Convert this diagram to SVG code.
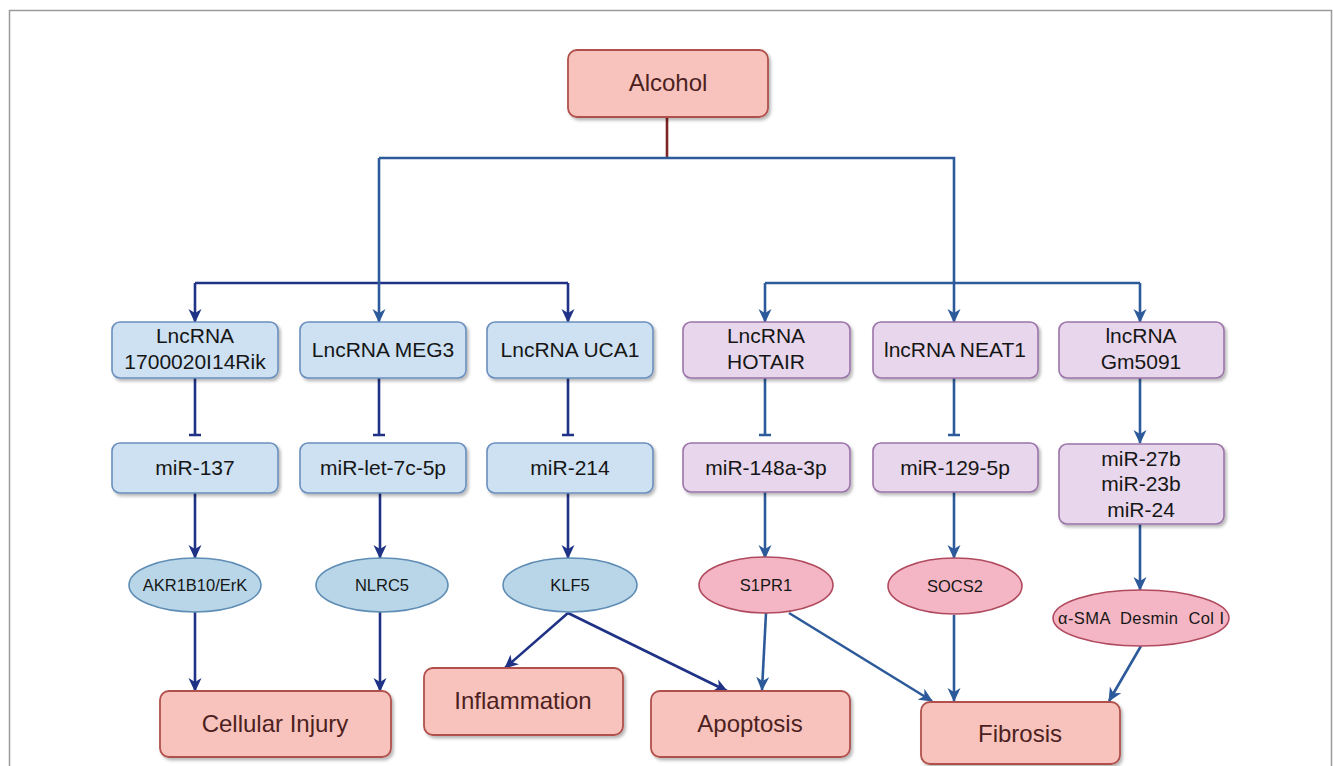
<svg xmlns="http://www.w3.org/2000/svg" width="1333" height="766" viewBox="0 0 1333 766">
<defs>
<filter id="sh" x="-10%" y="-10%" width="130%" height="140%">
<feDropShadow dx="2" dy="2.5" stdDeviation="1.5" flood-color="#000" flood-opacity="0.28"/>
</filter>
<marker id="an" viewBox="0 0 14 14" refX="13" refY="7" markerWidth="14" markerHeight="14" markerUnits="userSpaceOnUse" orient="auto">
<path d="M0,0.5 L14,7 L0,13.5 L4,7 z" fill="#1f3285"/>
</marker>
<marker id="ab" viewBox="0 0 14 14" refX="13" refY="7" markerWidth="14" markerHeight="14" markerUnits="userSpaceOnUse" orient="auto">
<path d="M0,0.5 L14,7 L0,13.5 L4,7 z" fill="#2d5a9a"/>
</marker>
</defs>
<style>
text{font-family:"Liberation Sans",Arial,sans-serif;text-anchor:middle}
.bb{fill:#cde1f2;stroke:#6a8fbd;stroke-width:1.6;filter:url(#sh)}
.pb{fill:#e8d6ec;stroke:#9b74a8;stroke-width:1.6;filter:url(#sh)}
.be{fill:#b8d6e8;stroke:#5f8db5;stroke-width:1.6}
.pe{fill:#f4b6c4;stroke:#b04a5e;stroke-width:1.6}
.sb{fill:#f8c3bc;stroke:#b0504c;stroke-width:1.8;filter:url(#sh)}
.t{font-size:21px;fill:#161616}
.e{font-size:16.5px;fill:#161616}
.s{font-size:24px;fill:#4d1f1f}
.n{fill:none;stroke:#1f3285;stroke-width:2.6}
.b{fill:none;stroke:#2d5a9a;stroke-width:2.6}
.na{marker-end:url(#an)}
.ba{marker-end:url(#ab)}
</style>
<rect x="9.5" y="10.5" width="1322" height="800" fill="#ffffff" stroke="#9a9a9a" stroke-width="1.5"/>

<g id="connectors">
<path d="M667 117 V158" fill="none" stroke="#7e2424" stroke-width="2.6"/>
<path class="n" d="M195 283 H568"/>
<path class="b" d="M379 158 H954 V283"/>
<path class="b ba" d="M379 158 V322"/>
<path class="n na" d="M195 283 V322"/>
<path class="n na" d="M568 283 V322"/>
<path class="b" d="M765 283 H1140"/>
<path class="b ba" d="M765 283 V322"/>
<path class="b ba" d="M954 283 V322"/>
<path class="b ba" d="M1140 283 V322"/>

<path class="n" d="M195 378 V435 M189 435 H201"/>
<path class="n" d="M379 378 V435 M373 435 H385"/>
<path class="n" d="M568 378 V435 M562 435 H574"/>
<path class="b" d="M765 378 V435 M759 435 H771"/>
<path class="b" d="M954 378 V435 M948 435 H960"/>
<path class="b ba" d="M1140 378 V443"/>

<path class="n na" d="M195 493 V558"/>
<path class="n na" d="M380 493 V558"/>
<path class="n na" d="M568 493 V558"/>
<path class="b ba" d="M765 492 V558"/>
<path class="b ba" d="M954 492 V558"/>
<path class="b ba" d="M1140 524 V590"/>

<path class="n na" d="M195 612 V691"/>
<path class="n na" d="M380 612 V691"/>
<path class="n na" d="M568 613 L505 668"/>
<path class="n na" d="M568 613 L727 691"/>
<path class="b ba" d="M766 613 L762 690"/>
<path class="b ba" d="M789 613 L932 701"/>
<path class="b ba" d="M954 615 V701"/>
<path class="b ba" d="M1141 646 L1109 701"/>
</g>

<g id="alcohol"><rect class="sb" x="568" y="50" width="200" height="67" rx="9"/><text class="s" x="668" y="91">Alcohol</text></g>

<g id="lnc1"><rect class="bb" x="112" y="322" width="166" height="56" rx="8"/><text class="t" x="195" y="343">LncRNA</text><text class="t" x="195" y="369">1700020I14Rik</text></g>
<g id="lnc2"><rect class="bb" x="300" y="322" width="166" height="56" rx="8"/><text class="t" x="383" y="357">LncRNA MEG3</text></g>
<g id="lnc3"><rect class="bb" x="487" y="322" width="166" height="56" rx="8"/><text class="t" x="570" y="357">LncRNA UCA1</text></g>
<g id="lnc4"><rect class="pb" x="683" y="322" width="167" height="56" rx="8"/><text class="t" x="766" y="343">LncRNA</text><text class="t" x="766" y="369">HOTAIR</text></g>
<g id="lnc5"><rect class="pb" x="873" y="322" width="165" height="56" rx="8"/><text class="t" x="955" y="357">lncRNA NEAT1</text></g>
<g id="lnc6"><rect class="pb" x="1059" y="322" width="165" height="56" rx="8"/><text class="t" x="1141" y="343">lncRNA</text><text class="t" x="1141" y="369">Gm5091</text></g>

<g id="mir1"><rect class="bb" x="112" y="443" width="166" height="50" rx="8"/><text class="t" x="195" y="475">miR-137</text></g>
<g id="mir2"><rect class="bb" x="300" y="443" width="166" height="50" rx="8"/><text class="t" x="383" y="475">miR-let-7c-5p</text></g>
<g id="mir3"><rect class="bb" x="487" y="443" width="166" height="50" rx="8"/><text class="t" x="570" y="475">miR-214</text></g>
<g id="mir4"><rect class="pb" x="683" y="443" width="167" height="49" rx="8"/><text class="t" x="766" y="475">miR-148a-3p</text></g>
<g id="mir5"><rect class="pb" x="873" y="443" width="165" height="49" rx="8"/><text class="t" x="955" y="475">miR-129-5p</text></g>
<g id="mir6"><rect class="pb" x="1059" y="444" width="165" height="80" rx="8"/><text class="t" x="1141" y="466">miR-27b</text><text class="t" x="1141" y="491">miR-23b</text><text class="t" x="1141" y="517">miR-24</text></g>

<g id="akr"><ellipse class="be" cx="195" cy="585" rx="66" ry="27"/><text class="e" x="195" y="591">AKR1B10/ErK</text></g>
<g id="nlrc5"><ellipse class="be" cx="382" cy="585" rx="66" ry="27"/><text class="e" x="382" y="591">NLRC5</text></g>
<g id="klf5"><ellipse class="be" cx="570" cy="585" rx="67" ry="27"/><text class="e" x="570" y="591">KLF5</text></g>
<g id="s1pr1"><ellipse class="pe" cx="766" cy="585" rx="67" ry="28"/><text class="e" x="766" y="591">S1PR1</text></g>
<g id="socs2"><ellipse class="pe" cx="955" cy="586" rx="67" ry="28"/><text class="e" x="955" y="592">SOCS2</text></g>
<g id="sma"><ellipse class="pe" cx="1141" cy="618" rx="88" ry="28"/><text class="e" x="1141" y="624" textLength="166" lengthAdjust="spacing" xml:space="preserve">α-SMA  Desmin  Col I</text></g>

<g id="injury"><rect class="sb" x="160" y="691" width="231" height="66" rx="9"/><text class="s" x="275" y="732">Cellular Injury</text></g>
<g id="inflammation"><rect class="sb" x="424" y="668" width="199" height="67" rx="9"/><text class="s" x="523" y="709">Inflammation</text></g>
<g id="apoptosis"><rect class="sb" x="651" y="691" width="199" height="66" rx="9"/><text class="s" x="750" y="732">Apoptosis</text></g>
<g id="fibrosis"><rect class="sb" x="921" y="702" width="199" height="62" rx="9"/><text class="s" x="1020" y="742">Fibrosis</text></g>
</svg>
